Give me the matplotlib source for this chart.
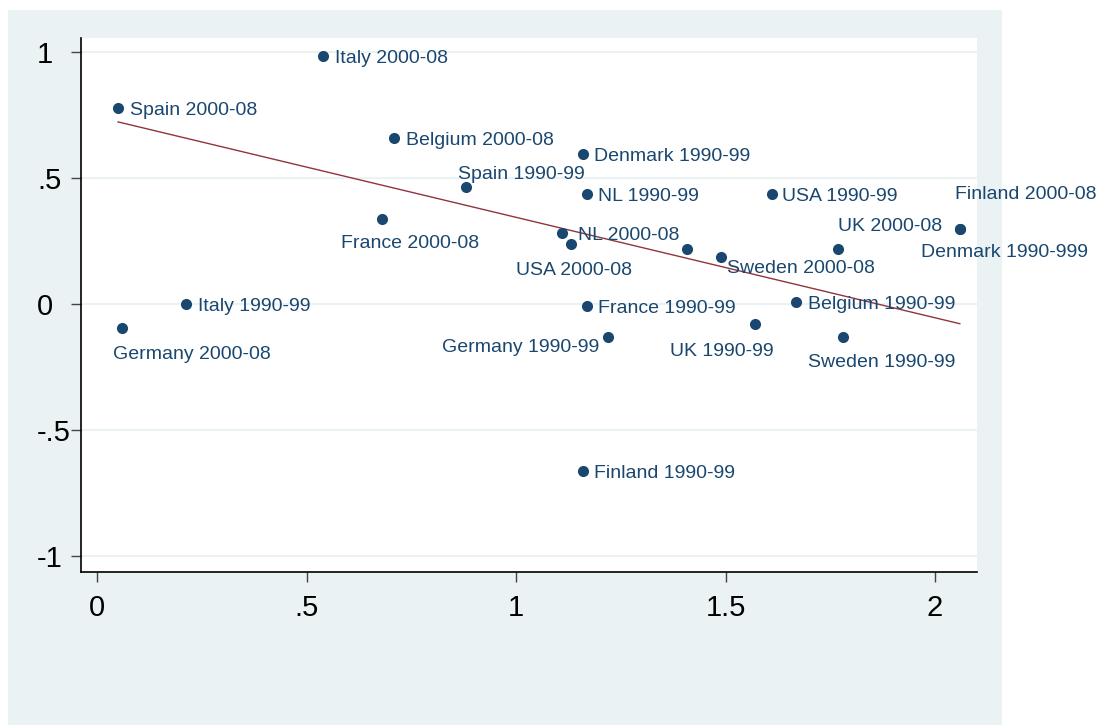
import matplotlib
matplotlib.use('Agg')
import matplotlib.pyplot as plt
import numpy as np
from matplotlib.patches import Rectangle

plt.rcParams['font.family'] = ['Liberation Sans', 'DejaVu Sans']

# ---------------- data ----------------
labels = ["Italy 2000-08", "Spain 2000-08", "Belgium 2000-08", "Denmark 1990-99",
          "Spain 1990-99", "NL 1990-99", "USA 1990-99", "France 2000-08",
          "NL 2000-08", "USA 2000-08", "", "Sweden 2000-08", "UK 2000-08",
          "Finland 2000-08", "Denmark 1990-999", "Italy 1990-99", "Germany 2000-08",
          "France 1990-99", "Germany 1990-99", "UK 1990-99", "Belgium 1990-99",
          "Sweden 1990-99", "Finland 1990-99"]
x_vals = [0.540, 0.050, 0.709, 1.159, 0.881, 1.169, 1.610, 0.680, 1.110, 1.131,
          1.409, 1.489, 1.769, 2.059, 2.059, 0.211, 0.060, 1.169, 1.219, 1.569,
          1.668, 1.780, 1.159]
y_vals = [0.986, 0.778, 0.659, 0.598, 0.467, 0.439, 0.439, 0.338, 0.281, 0.239,
          0.220, 0.188, 0.220, 0.298, 0.298, 0.000, -0.093, -0.008, -0.130, -0.080,
          0.009, -0.130, -0.663]
fit_intercept = 0.744
fit_slope = -0.399
xtick_vals = [0, 0.5, 1, 1.5, 2]
xtick_labels = ["0", ".5", "1", "1.5", "2"]
ytick_vals = [-1, -0.5, 0, 0.5, 1]
ytick_labels = ["-1", "-.5", "0", ".5", "1"]

# label placement (pixel offsets: dx right, dy down, alignment)
label_place = [(12, 0, 'left'), (12, 0, 'left'), (12, 0, 'left'), (11, 0, 'left'),
               (-8, -15, 'left'), (11, 0, 'left'), (10, 0, 'left'), (-41, 22, 'left'),
               (16, 0, 'left'), (-55, 24, 'left'), (0, 0, 'left'), (6, 9, 'left'),
               (0, -25, 'left'), (-5, -37, 'left'), (-39, 21, 'left'), (12, 0, 'left'),
               (-9, 24, 'left'), (11, 0, 'left'), (-9, 8, 'right'), (-85, 25, 'left'),
               (12, 0, 'left'), (-35, 23, 'left'), (11, 0, 'left')]
label_shift_down = 2.5

W, H = 1102, 725
fig = plt.figure(figsize=(W / 100, H / 100), dpi=100)
fig.patch.set_facecolor('white')
fig.add_artist(Rectangle((8 / W, 0), 994 / W, 715 / H, transform=fig.transFigure,
                         facecolor='#EAF2F3', edgecolor='none', zorder=-10))

left_px, right_px, top_px, bottom_px = 81.4, 977, 37.7, 571.7
ax = fig.add_axes([left_px / W, 1 - bottom_px / H, (right_px - left_px) / W,
                   (bottom_px - top_px) / H])
ax.set_facecolor('white')
ax.set_xlim(-0.0375, 2.10)
ax.set_ylim(-1.0625, 1.0585)

for s in ['top', 'right']:
    ax.spines[s].set_visible(False)
for s in ['left', 'bottom']:
    ax.spines[s].set_color('black')
    ax.spines[s].set_linewidth(1.2)

ax.set_xticks(xtick_vals)
ax.set_xticklabels(xtick_labels)
ax.set_yticks(ytick_vals)
ax.set_yticklabels(ytick_labels)
ax.tick_params(axis='both', direction='out', length=7.2, width=1, color='#444444',
               labelsize=21, labelcolor='black')
ax.tick_params(axis='x', pad=9)
ax.tick_params(axis='y', pad=24.8)
for lab in ax.get_yticklabels():
    lab.set_horizontalalignment('left')

ax.yaxis.grid(True, color='#EAF2F3', linewidth=1.5)
ax.set_axisbelow(True)

xs = np.array([min(x_vals), max(x_vals)])
ax.plot(xs, fit_intercept + fit_slope * xs, color='#90353B', linewidth=1, zorder=2)
ax.scatter(x_vals, y_vals, s=64, color='#1A476F', linewidths=0, zorder=3)

for lab, xv, yv, (dx, dy, ha) in zip(labels, x_vals, y_vals, label_place):
    if not lab:
        continue
    ax.annotate(lab, (xv, yv), xytext=(dx, -(dy + label_shift_down)),
                textcoords='offset pixels', ha=ha, va='center', fontsize=14,
                color='#1A476F', zorder=4)

fig.savefig('out.png', dpi=100, facecolor=fig.get_facecolor())
